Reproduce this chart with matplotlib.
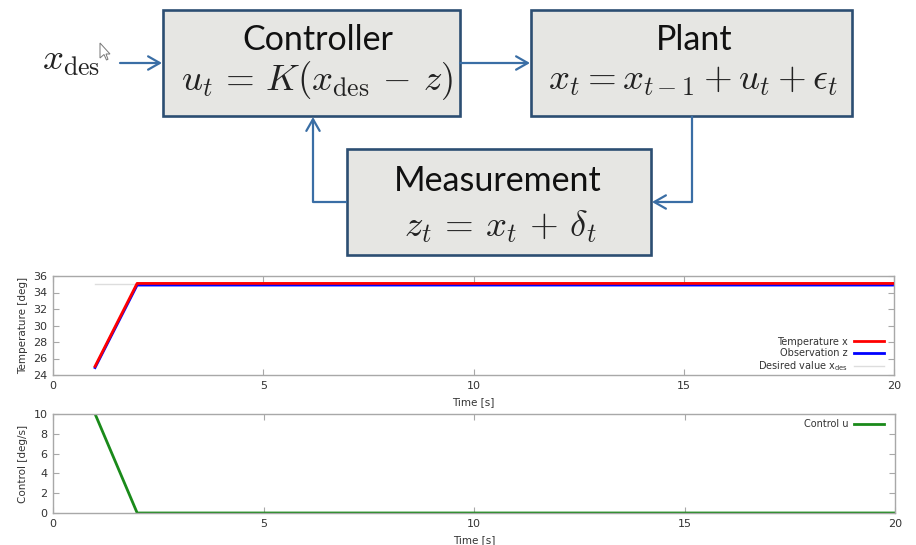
import matplotlib
matplotlib.use("Agg")
import matplotlib.pyplot as plt
from matplotlib.patches import Rectangle, FancyArrowPatch

# ---------------- data ----------------
time_s = [1, 2, 3, 4, 5, 6, 7, 8, 9, 10, 11, 12, 13, 14, 15, 16, 17, 18, 19, 20]
temperature_x = [25.05, 35.1, 35.1, 35.1, 35.1, 35.1, 35.1, 35.1, 35.1, 35.1,
                 35.1, 35.1, 35.1, 35.1, 35.1, 35.1, 35.1, 35.1, 35.1, 35.1]
observation_z = [24.9, 34.9, 34.9, 34.9, 34.9, 34.9, 34.9, 34.9, 34.9, 34.9,
                 34.9, 34.9, 34.9, 34.9, 34.9, 34.9, 34.9, 34.9, 34.9, 34.9]
desired_value = [35, 35, 35, 35, 35, 35, 35, 35, 35, 35,
                 35, 35, 35, 35, 35, 35, 35, 35, 35, 35]
control_u = [10, 0, 0, 0, 0, 0, 0, 0, 0, 0,
             0, 0, 0, 0, 0, 0, 0, 0, 0, 0]
x_ticks = [0, 5, 10, 15, 20]
temp_ticks = [24, 26, 28, 30, 32, 34, 36]
ctrl_ticks = [0, 2, 4, 6, 8, 10]

W, H = 916, 545
fig = plt.figure(figsize=(W / 100, H / 100), dpi=100)

GRAY = "#a8a8a8"
TXT = "#333333"


def style_axes(ax):
    for s in ax.spines.values():
        s.set_color(GRAY)
        s.set_linewidth(1.0)
    ax.tick_params(direction="in", length=4, color=GRAY, top=True, right=True,
                   labelsize=8, labelcolor=TXT, pad=4, width=0.8)


# ---------------- top plot ----------------
ax1 = fig.add_axes([53 / W, 1 - 375 / H, (894 - 53) / W, 99 / H])
ax1.plot(time_s, desired_value, color="#dddddd", lw=1.0, label=r"Desired value x$_\mathrm{des}$", zorder=1)
ax1.plot(time_s, temperature_x, color="#ff0000", lw=2.0, label="Temperature x", zorder=3)
ax1.plot(time_s, observation_z, color="#0000ff", lw=2.0, label="Observation z", zorder=2)
ax1.set_xlim(0, 20)
ax1.set_ylim(24, 36)
ax1.set_xticks(x_ticks)
ax1.set_yticks(temp_ticks)
style_axes(ax1)
ax1.set_xlabel("Time [s]", fontsize=7.5, color=TXT, labelpad=5)
ax1.set_ylabel("Temperature [deg]", fontsize=7.5, color=TXT, labelpad=4)
h, l = ax1.get_legend_handles_labels()
order = [1, 2, 0]
ax1.legend([h[i] for i in order], [l[i] for i in order], loc="lower right",
           bbox_to_anchor=(1 - 10 / 841, 2 / 99),
           frameon=False, markerfirst=False, fontsize=7, handlelength=3.1,
           labelspacing=0.12, handletextpad=0.6, borderaxespad=0,
           borderpad=0, labelcolor=TXT)

# ---------------- bottom plot ----------------
ax2 = fig.add_axes([53 / W, 1 - 513 / H, (895 - 53) / W, 99 / H])
ax2.plot(time_s, control_u, color="#1a8a1a", lw=2.0, label="Control u")
ax2.set_xlim(0, 20)
ax2.set_ylim(0, 10)
ax2.set_xticks(x_ticks)
ax2.set_yticks(ctrl_ticks)
style_axes(ax2)
ax2.set_xlabel("Time [s]", fontsize=7.5, color=TXT, labelpad=5)
ax2.set_ylabel("Control [deg/s]", fontsize=7.5, color=TXT, labelpad=4)
ax2.legend(loc="upper right", bbox_to_anchor=(1 - 11 / 842, 1 - 5 / 99),
           frameon=False, markerfirst=False, fontsize=7,
           handlelength=3.1, handletextpad=0.6, borderaxespad=0,
           borderpad=0, labelcolor=TXT)

# ---------------- block diagram ----------------
ov = fig.add_axes([0, 0, 1, 1], zorder=5)
ov.set_xlim(0, W)
ov.set_ylim(H, 0)
ov.axis("off")
ov.patch.set_alpha(0)

BOX_FILL = "#e6e6e3"
BOX_EDGE = "#2c4e72"
ARROW = "#3a6ea5"

boxes = [(163, 10, 460, 116), (531, 10, 852, 116), (347, 149, 651, 255)]
for (x0, y0, x1, y1) in boxes:
    ov.add_patch(Rectangle((x0, y0), x1 - x0, y1 - y0, facecolor=BOX_FILL,
                           edgecolor=BOX_EDGE, lw=1.9, zorder=2))

TITLE_FONT = ["Lato", "DejaVu Sans"]
MATH_FS = 26.5
ov.text(318, 50, "Controller", fontsize=24.5, family=TITLE_FONT, ha="center", va="baseline", color="#111111")
ov.text(317, 90, r"$u_t \,=\, K(x_\mathrm{des} \,-\, z)$", fontsize=MATH_FS, math_fontfamily="cm",
        ha="center", va="baseline", color="#222222")
ov.text(694, 50, "Plant", fontsize=24.5, family=TITLE_FONT, ha="center", va="baseline", color="#111111")
ov.text(693, 90, r"$x_t = x_{t-1} + u_t + \epsilon_t$", fontsize=MATH_FS, math_fontfamily="cm",
        ha="center", va="baseline", color="#222222")
ov.text(498, 191, "Measurement", fontsize=24.5, family=TITLE_FONT, ha="center", va="baseline", color="#111111")
ov.text(500, 237, r"$z_t \,=\, x_t \,+\, \delta_t$", fontsize=MATH_FS, math_fontfamily="cm",
        ha="center", va="baseline", color="#222222")
ov.text(71, 70, r"$x_\mathrm{des}$", fontsize=MATH_FS, math_fontfamily="cm",
        ha="center", va="baseline", color="#222222")


def arrow(p0, p1):
    ov.add_patch(FancyArrowPatch(p0, p1, arrowstyle="->,head_length=0.7,head_width=0.4",
                                 mutation_scale=12, color=ARROW, lw=1.6,
                                 shrinkA=0, shrinkB=0, zorder=3))


arrow((120, 63), (162, 63))
arrow((460, 63), (530, 63))
ov.plot([692, 692, 665], [116, 202, 202], color=ARROW, lw=1.6, zorder=3, solid_capstyle="butt")
arrow((665, 202), (652, 202))
ov.plot([347, 313, 313], [202, 202, 130], color=ARROW, lw=1.6, zorder=3, solid_capstyle="butt")
arrow((313, 130), (313, 117))

# mouse cursor
ov.fill([100, 100, 104, 106.5, 108, 106, 110], [43, 58, 54.5, 60, 59.3, 54, 54],
        facecolor="white", edgecolor="#777777", lw=0.7, zorder=4)

fig.savefig("out.png", dpi=100)
